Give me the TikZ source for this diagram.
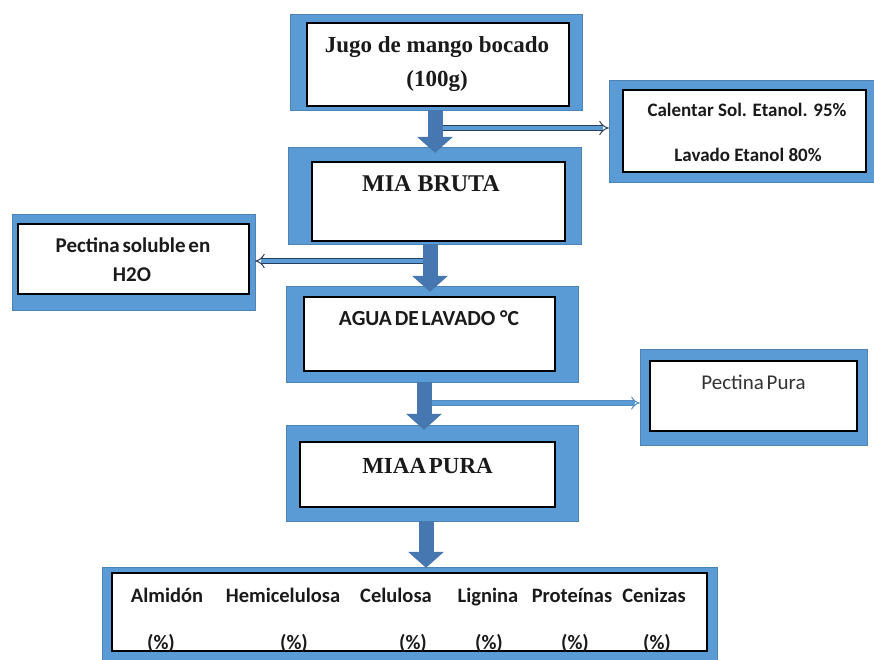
\documentclass[tikz,border=0pt]{standalone}
\usepackage{fontspec}
\setmainfont{Carlito}
\newfontfamily\tms{Liberation Serif}
\usetikzlibrary{arrows.meta}
\definecolor{boxblue}{HTML}{5B9BD5}
\definecolor{arrblue}{HTML}{4677B0}
\definecolor{txtcol}{HTML}{1A1A1A}
\definecolor{thinedge}{HTML}{2A3F5F}
\begin{document}
\begin{tikzpicture}[x=1pt,y=-1pt,
  outerbox/.style={draw=boxblue!85!black, line width=0.4pt, fill=boxblue, inner sep=0pt},
  innerbox/.style={draw=black, line width=1.3pt, fill=white, inner sep=0pt, text=txtcol},
  serift/.style={font=\tms\bfseries\fontsize{23}{28}\selectfont, text=txtcol, inner sep=0pt, anchor=base},
  calt/.style={font=\bfseries\fontsize{19}{24}\selectfont, text=txtcol, inner sep=0pt, anchor=base},
  bott/.style={font=\bfseries\fontsize{20.5}{24}\selectfont, text=txtcol, inner sep=0pt, anchor=base},
  bigarr/.style={draw=arrblue, line width=15pt, -{Triangle[width=35pt,length=16pt]}},
  thinarr/.style={draw=thinedge, line width=1pt, double=boxblue, double distance=4pt, -{Implies}},
  lightarr/.style={draw=boxblue!90!black, line width=1pt, double=boxblue, double distance=3.5pt, -{Implies}}]
\useasboundingbox (0,0) rectangle (874,660);
\fill[white] (0,0) rectangle (874,660);

% Jugo
\node[outerbox, minimum width=292pt, minimum height=96pt] (jugoO) at (436,62) {};
\node[innerbox, minimum width=262pt, minimum height=83pt] (jugo) at (438,64.5) {};
\node[serift] (jugoA) at (437,53) {Jugo de mango bocado};
\node[serift] (jugoB) at (437,87) {(100g)};

% Calentar
\node[outerbox, minimum width=265pt, minimum height=102pt] (calO) at (741.5,131) {};
\node[innerbox, minimum width=243pt, minimum height=82pt] (cal) at (744.5,131) {};
\node[calt] (calA) at (747,117) {Calentar Sol. Etanol. 95\%};
\node[calt] (calB) at (748,162) {Lavado Etanol 80\%};

% MIA BRUTA
\node[outerbox, minimum width=293pt, minimum height=97pt] (miaO) at (434.5,195.5) {};
\node[innerbox, minimum width=253pt, minimum height=79pt] (mia) at (438.5,201.5) {};
\node[serift, font=\tms\bfseries\fontsize{24}{28}\selectfont] (miaT) at (431,192) {MIA BRUTA};

% Pectina soluble
\node[outerbox, minimum width=243pt, minimum height=96pt] (solO) at (133.5,262) {};
\node[innerbox, minimum width=231pt, minimum height=70pt] (sol) at (133.5,259) {};
\node[bott, font=\bfseries\fontsize{21}{24}\selectfont] (solA) at (133,252) {Pectina\hspace{-2pt} soluble\hspace{-2pt} en};
\node[bott, font=\bfseries\fontsize{21}{24}\selectfont] (solB) at (132,281) {H2O};

% AGUA
\node[outerbox, minimum width=292pt, minimum height=96pt] (aguaO) at (432,334) {};
\node[innerbox, minimum width=251pt, minimum height=74pt] (agua) at (429.5,334) {};
\node[bott, font=\bfseries\fontsize{21.5}{24}\selectfont] (aguaT) at (429,325) {AGUA\hspace{-2pt} DE\hspace{-2pt} LAVADO °C};

% Pectina Pura
\node[outerbox, minimum width=227pt, minimum height=96pt] (puraO) at (753.5,397) {};
\node[innerbox, minimum width=207pt, minimum height=70pt] (pura) at (753.5,396) {};
\node[font=\fontsize{21}{24}\selectfont, text=black!80, inner sep=0pt, anchor=base] (puraT) at (753.5,389) {Pectina\hspace{-2pt} Pura};

% MIAA PURA
\node[outerbox, minimum width=292pt, minimum height=96pt] (miaaO) at (432,473) {};
\node[innerbox, minimum width=255pt, minimum height=65pt] (miaa) at (427.5,474.5) {};
\node[serift] (miaaT) at (427.5,473) {MIAA\hspace{-3pt} PURA};

% Bottom
\node[outerbox, minimum width=615pt, minimum height=96pt] (botO) at (409.5,615) {};
\node[innerbox, minimum width=595pt, minimum height=78pt] (bot) at (409.5,612) {};
\node[bott] (b1) at (167,602) {Almidón};
\node[bott] (b2) at (283,602) {Hemicelulosa};
\node[bott] (b3) at (396,602) {Celulosa};
\node[bott] (b4) at (488,602) {Lignina};
\node[bott] (b5) at (572,602) {Proteínas};
\node[bott] (b6) at (654,602) {Cenizas};
\node[bott] (p1) at (161,649) {(\%)};
\node[bott] (p2) at (294,649) {(\%)};
\node[bott] (p3) at (413,649) {(\%)};
\node[bott] (p4) at (489,649) {(\%)};
\node[bott] (p5) at (575,649) {(\%)};
\node[bott] (p6) at (657,649) {(\%)};

% thin side arrows
\coordinate (h1s) at (443,128);
\coordinate (h2s) at (424,261);
\coordinate (h3s) at (431,403);
\draw[thinarr] (h1s) -- (calO.west |- h1s);
\draw[thinarr] (h2s) -- (solO.east |- h2s);
\draw[lightarr] (h3s) -- (puraO.west |- h3s);

% big down arrows
\draw[bigarr] ([xshift=-1pt]jugoO.south) -- ([xshift=-1pt,yshift=-6pt]jugoO.south |- miaO.north);
\draw[bigarr] ([xshift=-4.5pt]miaO.south) -- ([xshift=-4.5pt,yshift=-6pt]miaO.south |- aguaO.north);
\draw[bigarr] ([xshift=-8pt]aguaO.south) -- ([xshift=-8pt,yshift=-5pt]aguaO.south |- miaaO.north);
\draw[bigarr] ([xshift=-6pt]miaaO.south) -- ([xshift=-6pt,yshift=-1pt]miaaO.south |- botO.north);
\end{tikzpicture}
\end{document}
